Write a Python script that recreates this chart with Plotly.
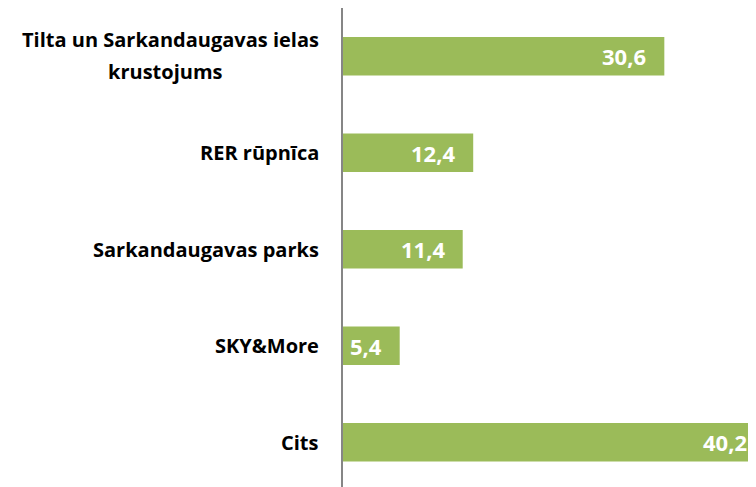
import plotly.graph_objects as go

categories = ["Tilta un Sarkandaugavas ielas<br>krustojums", "RER rūpnīca",
              "Sarkandaugavas parks", "SKY&More", "Cits"]
values = [30.6, 12.4, 11.4, 5.4, 40.2]

GREEN = "#9BBB59"
FONT = "Open Sans"
LABEL_FONT = dict(family=FONT, size=20, color="black", weight="bold")
VALUE_FONT = dict(family=FONT, size=22, color="white", weight="bold")
XMAX = 39.33  # visible part of the value axis; the last bar runs past it

fig = go.Figure()
fig.add_trace(go.Bar(
    x=values, y=list(range(len(categories))), orientation="h",
    marker=dict(color=GREEN, line=dict(width=0)),
    width=0.4, hoverinfo="skip",
))

# value labels just inside the bar ends, in paper units so the one
# beyond the axis range is still drawn
for i, v in enumerate(values):
    fig.add_annotation(x=v / XMAX, xref="paper", y=i, yref="y",
                       text=f"{v:.1f}".replace(".", ","),
                       xanchor="right", xshift=-16, showarrow=False,
                       font=VALUE_FONT)

# category labels as annotations so the two-line label can be centred
for i, cat in enumerate(categories):
    lines = cat.split("<br>")
    if len(lines) == 1:
        fig.add_annotation(x=0, xref="paper", y=i, yref="y", text=cat,
                           xanchor="right", xshift=-22, showarrow=False,
                           font=LABEL_FONT)
    else:
        fig.add_annotation(x=0, xref="paper", y=i, yref="y", text=lines[0],
                           xanchor="right", xshift=-22, yshift=17, showarrow=False,
                           font=LABEL_FONT)
        fig.add_annotation(x=0, xref="paper", y=i, yref="y", text=lines[1],
                           xanchor="center", xshift=-178, yshift=-15, showarrow=False,
                           font=LABEL_FONT)

fig.update_layout(
    width=748, height=479,
    margin=dict(l=335, r=0, t=0, b=0),
    paper_bgcolor="white", plot_bgcolor="white",
    showlegend=False,
    xaxis=dict(range=[0, XMAX], visible=False, fixedrange=True),
    yaxis=dict(range=[4.464, -0.5], showticklabels=False, ticks="",
               showgrid=False, zeroline=False,
               showline=True, linecolor="#868686", linewidth=1.5),
)

fig.write_html("out.html")
